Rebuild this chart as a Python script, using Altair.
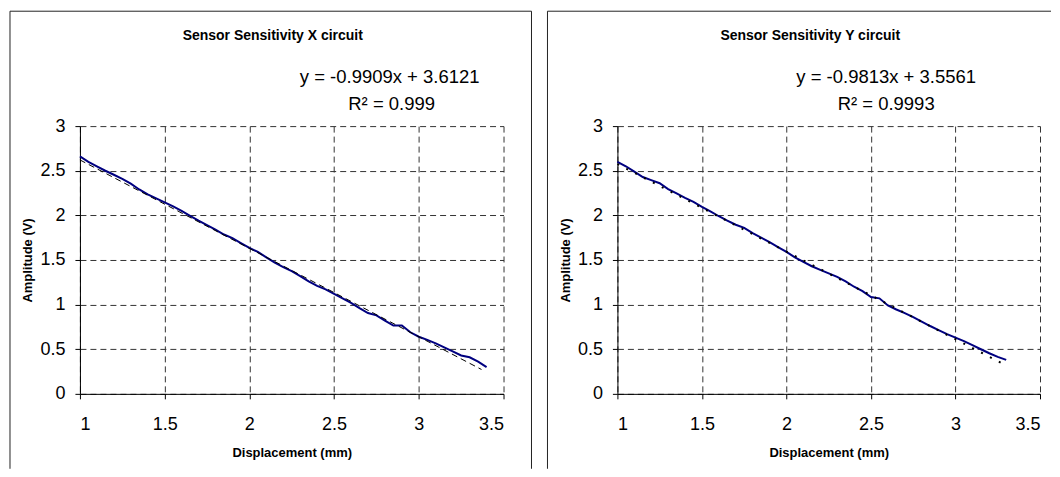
import altair as alt
import pandas as pd

# ---------- data ----------
x_left = [1.00, 1.05, 1.10, 1.15, 1.20, 1.25, 1.30, 1.35, 1.40, 1.45,
          1.50, 1.55, 1.60, 1.65, 1.70, 1.75, 1.80, 1.85, 1.90, 1.95,
          2.00, 2.05, 2.10, 2.15, 2.20, 2.25, 2.30, 2.35, 2.40, 2.45,
          2.50, 2.55, 2.60, 2.65, 2.70, 2.75, 2.80, 2.85, 2.90, 2.95,
          3.00, 3.05, 3.10, 3.15, 3.20, 3.25, 3.30, 3.35, 3.40]
y_left = [2.66, 2.60, 2.55, 2.50, 2.455, 2.41, 2.355, 2.29, 2.235, 2.19,
          2.145, 2.10, 2.05, 1.995, 1.94, 1.89, 1.84, 1.785, 1.745, 1.69,
          1.635, 1.59, 1.53, 1.47, 1.42, 1.375, 1.32, 1.26, 1.21, 1.17,
          1.12, 1.07, 1.02, 0.96, 0.905, 0.88, 0.82, 0.765, 0.765, 0.69,
          0.64, 0.605, 0.565, 0.52, 0.475, 0.43, 0.41, 0.36, 0.30]

x_right = [1.00, 1.05, 1.10, 1.15, 1.20, 1.25, 1.30, 1.35, 1.40, 1.45,
           1.50, 1.55, 1.60, 1.65, 1.70, 1.75, 1.80, 1.85, 1.90, 1.95,
           2.00, 2.05, 2.10, 2.15, 2.20, 2.25, 2.30, 2.35, 2.40, 2.45,
           2.50, 2.55, 2.60, 2.65, 2.70, 2.75, 2.80, 2.85, 2.90, 2.95,
           3.00, 3.05, 3.10, 3.15, 3.20, 3.25, 3.30]
y_right = [2.60, 2.55, 2.49, 2.43, 2.395, 2.36, 2.295, 2.245, 2.195, 2.15,
           2.095, 2.045, 1.99, 1.94, 1.895, 1.86, 1.80, 1.75, 1.70, 1.645,
           1.59, 1.53, 1.48, 1.43, 1.39, 1.35, 1.31, 1.26, 1.20, 1.15,
           1.085, 1.07, 0.99, 0.945, 0.905, 0.86, 0.81, 0.76, 0.715, 0.67,
           0.63, 0.59, 0.545, 0.50, 0.455, 0.415, 0.38]

# trend-line end points (as drawn in the reference)
trend_left_x = [1.0, 3.37]
trend_left_y = [2.621, 0.273]
trend_right_x = [1.0, 3.27]
trend_right_y = [2.575, 0.347]

titles = ["Sensor Sensitivity  X circuit", "Sensor Sensitivity  Y circuit"]
equations = ["y = -0.9909x + 3.6121", "y = -0.9813x + 3.5561"]
r2_texts = ["R\u00b2 = 0.999", "R\u00b2 = 0.9993"]
x_ticks = [1, 1.5, 2, 2.5, 3, 3.5]
y_ticks = [0, 0.5, 1, 1.5, 2, 2.5, 3]

FONT = "Liberation Sans"
H = 268


def panel(xs, ys, tx, ty, title, eq, r2, trend_dash, trend_width, width, is_left):
    data = pd.DataFrame({"x": xs, "y": ys})
    trend = pd.DataFrame({"x": tx, "y": ty})
    xenc = alt.X("x:Q", scale=alt.Scale(domain=[1, 3.5], nice=False, zero=False),
                 axis=alt.Axis(values=x_ticks, format="~g", title="Displacement (mm)"))
    yenc = alt.Y("y:Q", scale=alt.Scale(domain=[0, 3], nice=False, zero=True),
                 axis=alt.Axis(values=y_ticks, format="~g", title="Amplitude (V)"))
    series = alt.Chart(data).mark_line(color="#000080", strokeWidth=2).encode(x=xenc, y=yenc)
    trendline = alt.Chart(trend).mark_line(color="black", strokeWidth=trend_width,
                                           strokeDash=trend_dash).encode(x="x:Q", y="y:Q")

    def txt(s, xv, yv, size, bold=False):
        return alt.Chart(pd.DataFrame({"t": [s]})).mark_text(
            font=FONT, fontSize=size, fontWeight="bold" if bold else "normal",
            align="center", baseline="middle", color="black"
        ).encode(text="t:N", x=alt.value(xv), y=alt.value(yv))

    one = pd.DataFrame({"a": [0]})
    rule = dict(color="#222", strokeWidth=1)
    layers = [series, trendline,
              txt(title, 193, -90, 14, True),
              txt(eq, 310 if is_left else 269, -49, 18.5),
              txt(r2, 312 if is_left else 269, -22, 18.5),
              alt.Chart(one).mark_rule(**rule).encode(
                  x=alt.value(-70), y=alt.value(-115), y2=alt.value(343))]
    if is_left:
        layers += [
            alt.Chart(one).mark_rule(**rule).encode(
                x=alt.value(-70), x2=alt.value(452), y=alt.value(-115)),
            alt.Chart(one).mark_rule(**rule).encode(
                x=alt.value(452), y=alt.value(-115), y2=alt.value(343)),
        ]
    else:
        layers.append(alt.Chart(one).mark_rule(**rule).encode(
            x=alt.value(-70), x2=alt.value(434), y=alt.value(-115)))
    return alt.layer(*layers).properties(width=width, height=H)


left_panel = panel(x_left, y_left, trend_left_x, trend_left_y,
                   titles[0], equations[0], r2_texts[0], [6, 4], 1, 424, True)
right_panel = panel(x_right, y_right, trend_right_x, trend_right_y,
                    titles[1], equations[1], r2_texts[1], [2, 8], 2, 423, False)

chart = alt.hconcat(left_panel, right_panel, spacing=14).properties(
    padding={"left": 1, "top": 2, "right": 0, "bottom": 0},
    background="white",
).configure_view(stroke=None).configure_axis(
    labelFont=FONT, labelFontSize=18, labelColor="black",
    titleFont=FONT, titleFontSize=13, titleFontWeight="bold", titleColor="black",
    domainColor="black", domainWidth=1, tickColor="black", tickSize=5, tickWidth=1,
    grid=True, gridColor="#333", gridDash=[6, 4], gridWidth=1,
).configure_axisX(labelPadding=17, titlePadding=13
).configure_axisY(labelPadding=10, titlePadding=5)

chart.save("out.html", embed_options={"renderer": "svg", "actions": False})
